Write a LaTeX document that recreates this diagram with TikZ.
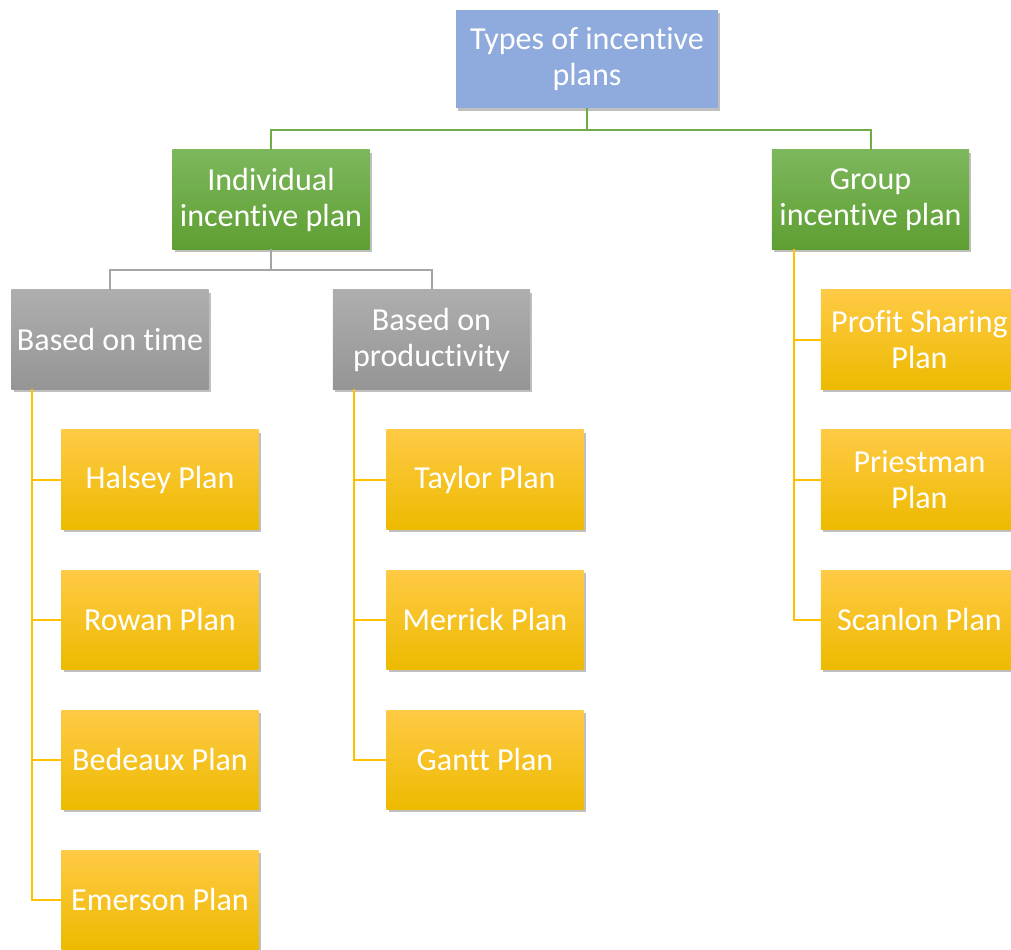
\documentclass[tikz,border=0pt]{standalone}
\usepackage{fontspec}
\setmainfont[Ligatures=NoCommon]{Carlito}
\usepackage{xcolor}
\usetikzlibrary{calc, shadows}

\definecolor{topblue}{HTML}{8FAADC}
\definecolor{greentop}{HTML}{7DB75D}
\definecolor{greenbot}{HTML}{5E9F32}
\definecolor{graytop}{HTML}{AEAEAE}
\definecolor{graybot}{HTML}{959595}
\definecolor{orangetop}{HTML}{FFCA45}
\definecolor{orangebot}{HTML}{EDBA00}
\definecolor{greenline}{HTML}{70AD47}
\definecolor{grayline}{HTML}{A5A5A5}
\definecolor{yellowline}{HTML}{FFC000}

\tikzset{
    box/.style={rectangle, align=center, text=white, inner sep=0pt,
        minimum width=4.925cm, minimum height=2.475cm,
        font=\fontsize{22.8}{25.6}\selectfont,
        drop shadow={shadow xshift=0.06cm, shadow yshift=-0.08cm, opacity=0.25, fill=black}},
    rootbox/.style={box, fill=topblue, minimum width=6.55cm, minimum height=2.45cm},
    groupbox/.style={box, top color=greentop, bottom color=greenbot},
    basisbox/.style={box, top color=graytop, bottom color=graybot},
    planbox/.style={box, top color=orangetop, bottom color=orangebot},
    greenwire/.style={draw=greenline, line width=0.05cm},
    graywire/.style={draw=grayline, line width=0.05cm},
    yellowwire/.style={draw=yellowline, line width=0.05cm}
}

\begin{document}
\begin{tikzpicture}[x=0.025cm, y=0.025cm]

        %% Frame
        \useasboundingbox (0,0) rectangle (1011,-949);
        \clip (0,0) rectangle (1011,-949);

        %% Root
        \node (root) [rootbox] at (587,-59) {Types of incentive\\plans};

        %% Second level
        \node (indiv) [groupbox] at (271,-199.5) {Individual\\incentive plan};
        \node (group) [groupbox] at (870.5,-199.5) {Group\\incentive plan};

        %% Third level
        \node (time) [basisbox] at (110,-339.5) {Based on time};
        \node (prod) [basisbox] at (431.5,-339.5) {Based on\\productivity};

        %% Plans based on time
        \node (halsey) [planbox] at (160,-479.5) {Halsey Plan};
        \node (rowan) [planbox] at (160,-619.5) {Rowan Plan};
        \node (bedeaux) [planbox] at (160,-759.5) {Bedeaux Plan};
        \node (emerson) [planbox] at (160,-899.5) {Emerson Plan};

        %% Plans based on productivity
        \node (taylor) [planbox] at (485,-479.5) {Taylor Plan};
        \node (merrick) [planbox] at (485,-619.5) {Merrick Plan};
        \node (gantt) [planbox] at (485,-759.5) {Gantt Plan};

        %% Group plans
        \node (profit) [planbox] at (919.5,-339.5) {Profit Sharing\\Plan};
        \node (priest) [planbox] at (919.5,-479.5) {Priestman\\Plan};
        \node (scanlon) [planbox] at (919.5,-619.5) {Scanlon Plan};

        %% Links
        \draw [greenwire] (root.south) -- ($(root.south)+(0,-22)$) -| (indiv.north);
        \draw [greenwire] (root.south) -- ($(root.south)+(0,-22)$) -| (group.north);
        \draw [graywire] (indiv.south) -- ($(indiv.south)+(0,-21)$) -| (time.north);
        \draw [graywire] (indiv.south) -- ($(indiv.south)+(0,-21)$) -| (prod.north);

        \foreach \plan in {halsey, rowan, bedeaux, emerson}
            \draw [yellowwire] ($(time.south west)+(21,0)$) |- (\plan.west);
        \foreach \plan in {taylor, merrick, gantt}
            \draw [yellowwire] ($(prod.south west)+(21,0)$) |- (\plan.west);
        \foreach \plan in {profit, priest, scanlon}
            \draw [yellowwire] ($(group.south west)+(22,0)$) |- (\plan.west);

    \end{tikzpicture}
\end{document}
